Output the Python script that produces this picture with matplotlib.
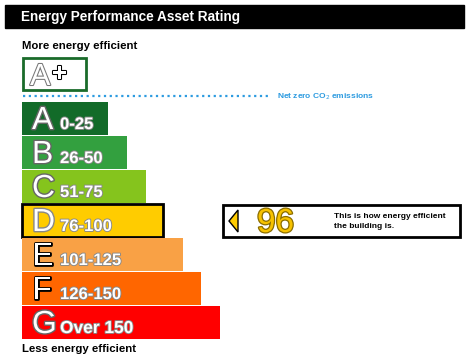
import matplotlib.pyplot as plt
import matplotlib.patheffects as pe
from matplotlib.patches import Rectangle, Polygon

plt.rcParams['font.family'] = ['Liberation Sans', 'DejaVu Sans']

# band data
bands = ["A", "B", "C", "D", "E", "F", "G"]
ranges = ["0-25", "26-50", "51-75", "76-100", "101-125", "126-150", "Over 150"]
bar_lengths = [86, 105, 124, 141, 161, 179, 198]
colors = ["#126b29", "#33a03f", "#85c41d", "#ffcc00", "#f9a145", "#ff6600", "#ff0000"]
letter_edges = ["#666666", "#666666", "#666666", "#888888", "black", "black", "#666666"]
rating = 96
rating_band = "D"

fig = plt.figure(figsize=(4.72, 3.63), dpi=100)
ax = fig.add_axes([0, 0, 1, 1])
ax.set_xlim(0, 472)
ax.set_ylim(363, 0)
ax.axis("off")

# title bar
ax.add_patch(Rectangle((5, 5), 459, 23, color="black"))
ax.text(21, 16.5, "Energy Performance Asset Rating", color="white", fontsize=9.8,
        fontweight="bold", va="center")

ax.text(22, 46, "More energy efficient", fontsize=8.2, fontweight="bold", va="center")

# A+ box
ax.add_patch(Rectangle((23, 58), 63, 32, facecolor="white", edgecolor="#1a6b2a", lw=2))
ax.text(30, 85, "A", fontsize=22, color="white", va="baseline",
        path_effects=[pe.withStroke(linewidth=1.5, foreground="#777777")])
ax.text(59.5, 74.5, "+", fontsize=19, color="white", ha="center", va="center",
        fontweight="bold",
        path_effects=[pe.withStroke(linewidth=1.5, foreground="black")])

# net zero line
ax.plot([23, 270], [96, 96], color="#2d9be0", lw=1.6, linestyle=(0, (1, 1.6)))
ax.text(277, 96.5, "Net zero CO$_2$ emissions", color="#2d9be0", fontsize=6,
        fontweight="bold", va="center")

# bands
step = 34
tops = [102 + i * step for i in range(len(bands))]
for i, (b, r, w, c) in enumerate(zip(bands, ranges, bar_lengths, colors)):
    edge = "black" if b == rating_band else "none"
    ax.barh(tops[i] + 16.5, w, left=22, height=32.5, color=c, edgecolor=edge,
            linewidth=2 if b == rating_band else 0)
    base = tops[i] + 27
    ax.text(32, base, b, fontsize=23, color="white", va="baseline",
            path_effects=[pe.withStroke(linewidth=2, foreground=letter_edges[i])])
    ax.text(60, base, r, fontsize=12.5 if b == "G" else 12, color="white",
            va="baseline", fontweight="bold",
            path_effects=[pe.withStroke(linewidth=1.3, foreground="#888888")])

ax.text(22, 349, "Less energy efficient", fontsize=8.2, fontweight="bold", va="center")

# rating pointer
idx = bands.index(rating_band)
ptop = tops[idx] + 1
ax.add_patch(Rectangle((223, ptop), 237, 32, facecolor="white", edgecolor="black", lw=2))
cy = ptop + 16
ax.add_patch(Polygon([(229, cy), (238, cy - 11), (238, cy + 11)], closed=True,
                     facecolor="#ffcc00", edgecolor="black", lw=1))
ax.text(257, cy + 11, str(rating), fontsize=24, color="#f7c200", va="baseline",
        path_effects=[pe.withStroke(linewidth=1.8, foreground="#8a6d00")])
ax.text(334, cy - 5, "This is how energy efficient", fontsize=6, fontweight="bold",
        va="center")
ax.text(334, cy + 5, "the building is.", fontsize=6, fontweight="bold", va="center")

fig.savefig("out.png", dpi=100)
plt.close()
